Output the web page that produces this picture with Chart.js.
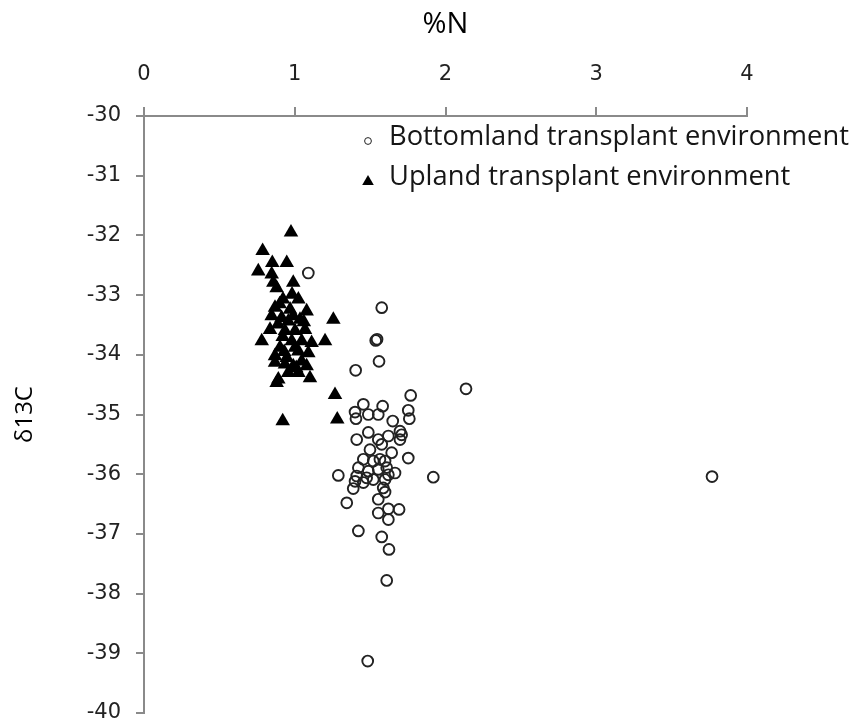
<!DOCTYPE html>
<html>
<head>
<meta charset="utf-8">
<title>δ13C vs %N</title>
<script src="https://cdn.jsdelivr.net/npm/chart.js@4/dist/chart.umd.min.js"></script>
<style>
  html, body { margin: 0; padding: 0; background: #ffffff; }
  #wrap { width: 856px; height: 725px; }
</style>
</head>
<body>
<div id="wrap"><canvas id="chart" width="856" height="725"></canvas></div>
<script>
// Series labels
const seriesLabels = ['Bottomland transplant environment', 'Upland transplant environment'];

// Bottomland transplant environment: %N and δ13C per sample
const bottomlandN = [
  1.090, 1.577, 1.537, 1.546, 1.559, 1.404, 1.769, 2.136, 1.455, 1.583,
  1.400, 1.488, 1.554, 1.753, 1.760, 1.406, 1.650, 1.698, 1.488, 1.411,
  1.554, 1.621, 1.698, 1.709, 1.499, 1.577, 1.643, 1.753, 1.455, 1.521,
  1.565, 1.422, 1.488, 1.554, 1.610, 1.665, 1.411, 1.289, 1.919, 1.521,
  1.599, 1.455, 1.388, 1.587, 1.599, 1.554, 1.345, 1.621, 1.554, 1.692,
  1.621, 1.422, 1.577, 1.625, 1.610, 1.484, 3.768, 1.599, 1.621, 1.477,
  1.400
];
const bottomlandC = [
  -32.63, -33.21, -33.76, -33.74, -34.11, -34.26, -34.68, -34.57, -34.83, -34.86,
  -34.96, -35.00, -35.00, -34.93, -35.07, -35.07, -35.11, -35.28, -35.30, -35.42,
  -35.42, -35.36, -35.42, -35.34, -35.59, -35.50, -35.64, -35.73, -35.75, -35.78,
  -35.75, -35.89, -35.95, -35.92, -35.89, -35.98, -36.03, -36.02, -36.05, -36.09,
  -36.09, -36.14, -36.24, -36.23, -36.30, -36.42, -36.48, -36.58, -36.65, -36.59,
  -36.76, -36.95, -37.05, -37.26, -37.78, -39.13, -36.04, -35.78, -36.01, -36.06,
  -36.12
];

// Upland transplant environment: %N and δ13C per sample
const uplandN = [
  0.975, 0.787, 0.851, 0.947, 0.758, 0.847, 0.858, 0.880, 0.990, 1.024,
  1.079, 0.869, 0.847, 0.913, 0.957, 1.256, 1.201, 1.002, 0.935, 0.781,
  0.980, 1.046, 1.112, 0.902, 1.024, 1.090, 0.869, 0.947, 1.046, 0.869,
  0.990, 1.079, 0.957, 1.024, 0.891, 1.101, 0.880, 1.267, 0.920, 1.282,
  0.922, 0.969, 0.889, 1.035, 0.982, 0.836, 1.068, 1.002, 0.935, 0.900,
  0.990, 0.920, 1.010, 0.930, 1.060
];
const uplandC = [
  -31.95, -32.26, -32.46, -32.46, -32.60, -32.65, -32.79, -32.88, -32.79, -33.07,
  -33.27, -33.21, -33.35, -33.38, -33.44, -33.41, -33.77, -33.60, -33.60, -33.77,
  -33.77, -33.77, -33.80, -33.88, -33.94, -33.97, -34.02, -34.05, -34.11, -34.13,
  -34.19, -34.19, -34.30, -34.30, -34.41, -34.39, -34.47, -34.67, -35.11, -35.08,
  -33.07, -33.24, -33.49, -33.41, -32.99, -33.58, -33.58, -33.88, -34.16, -33.15,
  -33.35, -33.70, -34.22, -33.95, -33.45
];

// Tick values on each axis
const xTicks = [0, 1, 2, 3, 4];
const yTicks = [-30, -31, -32, -33, -34, -35, -36, -37, -38, -39, -40];

const toPoints = (xs, ys) => xs.map((x, i) => ({ x: x, y: ys[i] }));

const AXIS_GREY = '#8a8a8a';
const TEXT_FONT = "'Open Sans', 'DejaVu Sans', sans-serif";
const TICK_FONT = "'DejaVu Sans', 'Open Sans', sans-serif";

// Legend drawn inside the plot area, to the upper right
const insideLegend = {
  id: 'insideLegend',
  afterDraw(chart) {
    const { ctx, chartArea } = chart;
    const markerX = chartArea.left + 224;
    const textX = chartArea.left + 245;
    const baseY = chartArea.top + 28.5;
    const rowGap = 40;
    ctx.save();
    chart.data.datasets.forEach((ds, i) => {
      const rowY = baseY + i * rowGap;
      ctx.save();
      ctx.fillStyle = ds.backgroundColor;
      ctx.strokeStyle = ds.borderColor;
      Chart.helpers.drawPoint(ctx, {
        pointStyle: ds.pointStyle,
        radius: ds.legendRadius,
        borderWidth: ds.legendBorder,
        rotation: 0
      }, markerX, rowY + ds.legendDy);
      ctx.restore();
      ctx.fillStyle = '#161616';
      ctx.font = "27.3px " + TEXT_FONT;
      ctx.textAlign = 'left';
      ctx.textBaseline = 'alphabetic';
      ctx.fillText(ds.label, textX, rowY);
    });
    ctx.restore();
  }
};

new Chart(document.getElementById('chart'), {
  type: 'scatter',
  data: {
    datasets: [
      {
        label: seriesLabels[0],
        data: toPoints(bottomlandN, bottomlandC),
        pointStyle: 'circle',
        pointRadius: 5.4,
        borderWidth: 1.9,
        borderColor: '#222222',
        backgroundColor: 'rgba(255,255,255,0)',
        legendRadius: 3.4,
        legendBorder: 1.5,
        legendDy: -3.5,
        order: 1
      },
      {
        label: seriesLabels[1],
        data: toPoints(uplandN, uplandC),
        pointStyle: 'triangle',
        pointRadius: 8.4,
        borderWidth: 0,
        borderColor: '#000000',
        backgroundColor: '#000000',
        legendRadius: 6.7,
        legendBorder: 0,
        legendDy: -2.8,
        order: 0
      }
    ]
  },
  options: {
    responsive: false,
    animation: false,
    devicePixelRatio: 1,
    layout: { padding: { left: 0, top: 0, right: 109, bottom: 12 } },
    plugins: {
      legend: { display: false },
      tooltip: { enabled: false }
    },
    scales: {
      x: {
        type: 'linear',
        position: 'top',
        min: 0,
        max: 4,
        afterBuildTicks(scale) { scale.ticks = xTicks.map(v => ({ value: v })); },
        afterFit(scale) { scale.height = 116; scale.paddingLeft = 0; scale.paddingRight = 0; },
        grid: { drawOnChartArea: false, drawTicks: true, tickLength: 9, color: AXIS_GREY, lineWidth: 2 },
        border: { display: true, color: AXIS_GREY, width: 2 },
        ticks: { color: '#222222', padding: 20, font: { family: TICK_FONT, size: 21 } },
        title: { display: true, text: '%N', color: '#000000', padding: { top: 7, bottom: 0 }, font: { family: TEXT_FONT, size: 29 } }
      },
      y: {
        type: 'linear',
        position: 'left',
        min: -40,
        max: -30,
        afterBuildTicks(scale) { scale.ticks = yTicks.map(v => ({ value: v })); },
        afterFit(scale) { scale.width = 144; scale.paddingTop = 0; scale.paddingBottom = 0; },
        grid: { drawOnChartArea: false, drawTicks: true, tickLength: 8, color: AXIS_GREY, lineWidth: 2 },
        border: { display: true, color: AXIS_GREY, width: 2 },
        ticks: { color: '#222222', padding: 15, font: { family: TICK_FONT, size: 21 } },
        title: { display: true, text: 'δ13C', color: '#000000', padding: { top: 11, bottom: 0 }, font: { family: TEXT_FONT, size: 24 } }
      }
    }
  },
  plugins: [insideLegend]
});
</script>
</body>
</html>
